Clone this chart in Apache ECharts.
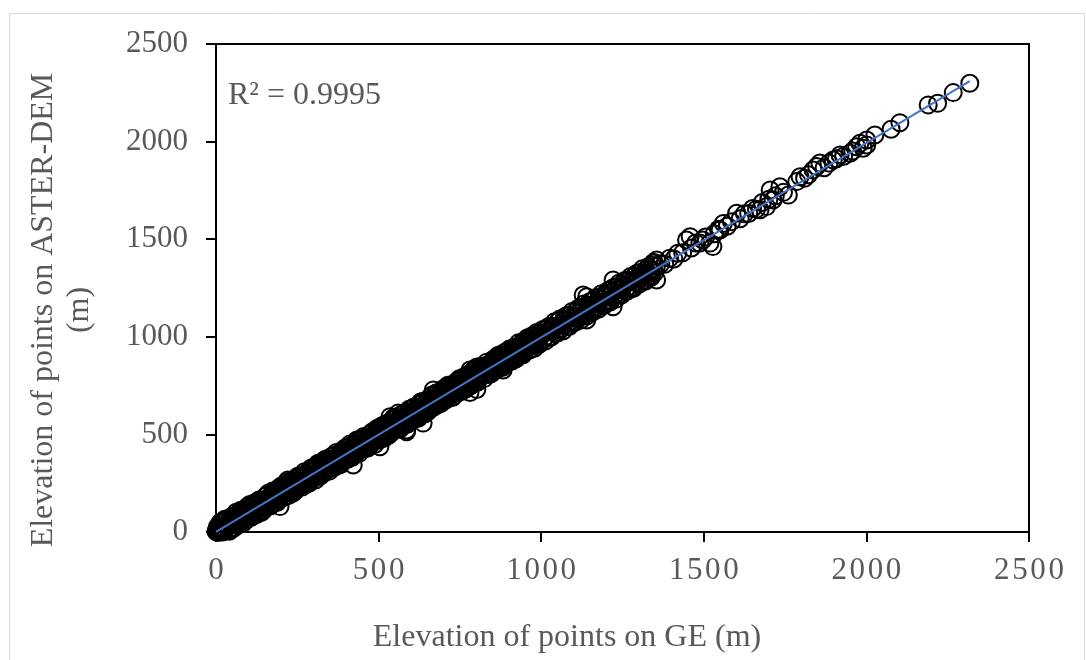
<!DOCTYPE html>
<html>
<head>
<meta charset="utf-8">
<script src="https://cdn.jsdelivr.net/npm/echarts@6/dist/echarts.min.js"></script>
<style>
html,body{margin:0;padding:0;background:#fff;}
#chart{width:1086px;height:660px;}
</style>
</head>
<body>
<div id="chart"></div>
<script>
// Axis tick values
const tickValues = [0, 500, 1000, 1500, 2000, 2500];

// Dense part of the cloud (GE elevation, ASTER-DEM elevation), metres
const geDense = [0,3,6,9,12,15,18,22,26,30,35,40,46,52,58,64,70,77,84,91,98,105,112,119,126,133,140,147,154,161,168,175,182,189,196,203,210,217,224,231,238,245,252,259,266,273,280,287,294,301,308,315,322,329,336,343,350,357,364,371,378,385,392,399,406,413,420,427,434,441,448,455,462,469,476,483,490,497,504,511,518,525,532,539,546,553,560,567,574,581,588,595,602,609,616,623,630,637,644,651,658,665,672,679,686,693,700,707,714,721,728,735,742,749,756,763,770,777,784,791,798,805,812,819,826,833,840,847,854,861,868,875,882,889,896,903,910,917,924,931,938,945,952,959,966,973,980,987,994];
const asterDense = [2,0,12,1,15,25,12,26,14,38,32,54,37,57,43,75,68,84,71,107,93,114,101,122,139,126,124,153,166,151,169,171,197,181,206,189,214,216,241,225,246,233,263,256,251,278,293,278,296,317,301,304,331,327,350,338,357,344,367,383,361,391,384,409,402,428,410,428,420,449,459,449,466,453,489,480,499,485,509,527,509,523,544,532,553,538,563,581,563,591,583,582,608,624,608,625,613,648,640,660,648,678,671,665,694,697,688,723,708,718,738,726,754,734,761,770,759,791,782,784,809,789,815,828,821,846,828,853,846,876,864,876,869,899,886,911,904,931,921,917,950,936,957,947,974,969,989,982,1001];

const geDense2 = [4,11,18,25,32,39,46,53,60,67,74,81,88,95,102,109,116,123,130,137,144,151,158,165,172,179,186,193,200,207,214,221,228,235,242,249,256,263,270,277,284,291,298,305,312,319,326,333,340,347,354,361,368,375,382,389,396,403,410,417,424,431,438,445,452,459,466,473,480,487,494,501,508,515,522,529,536,543,550,557,564,571,578,585,592,599,606,613,620,627,634,641,648,655,662,669,676,683,690,697,704,711,718,725,732,739,746,753,760,767,774,781,788,795,802,809,816,823,830,837,844,851,858,865,872,879,886,893,900,907,914,921,928,935,942,949,956,963,970,977,984,991,998];
const asterDense2 = [26,0,46,5,63,12,65,23,84,45,103,63,114,64,123,85,146,104,155,109,164,125,190,142,190,150,213,172,223,177,240,201,250,208,272,231,280,238,289,245,312,268,319,279,343,300,351,304,362,323,372,330,395,353,406,361,416,378,439,396,447,404,468,425,478,435,485,443,508,464,519,482,530,486,553,503,557,521,577,529,584,547,607,558,615,578,638,588,638,597,661,619,673,624,681,643,706,663,714,668,725,683,744,702,760,720,768,726,791,743,803,756,808,765,826,787,843,805,853,811,862,822,889,844,897,852,908,869,928,887,940,898,949,907,972,924,975,932,994,955,1011,965,1021];

const geDense3 = [1,8,15,22,29,36,43,50,57,64,71,78,85,92,99,106,113,120,127,134,141,148,155,162,169,176,183,190,197,204,211,218,225,232,239,246,253,260,267,274,281,288,295,302,309,316,323,330,337,344,351,358,365,372,379,386,393,400,407,414,421,428,435,442,449,456,463,470,477,484,491,498,505,512,519,526,533,540,547,554,561,568,575,582,589,596,603,610,617,624,631,638,645,652,659,666,673,680,687,694,701,708,715,722,729,736,743,750,757,764,771,778,785,792,799,806,813,820,827,834,841,848,855,862,869,876,883,890,897,904,911,918,925,932,939,946,953,960,967,974,981,988,995];
const asterDense3 = [7,4,24,20,40,26,47,42,64,52,72,72,95,89,107,95,118,111,139,133,144,141,166,157,171,166,192,186,203,192,219,216,237,223,243,240,263,257,274,263,286,280,296,290,318,312,334,323,340,334,363,353,371,371,389,377,395,389,415,411,425,416,442,436,460,454,472,462,478,474,501,495,510,501,525,519,545,539,556,549,563,559,583,578,600,584,606,604,627,622,638,628,646,644,671,661,677,669,693,691,710,707,726,715,732,724,751,746,762,755,777,767,795,790,800,798,825,814,831,824,852,843,858,853,876,875,893,878,899,897,919,914,937,922,944,943,962,954,968,963,985,980,1001];

const geDense4 = [6,13,20,27,34,41,48,55,62,69,76,83,90,97,104,111,118,125,132,139,146,153,160,167,174,181,188,195,202,209,216,223,230,237,244,251,258,265,272,279,286,293,300,307,314,321,328,335,342,349,356,363,370,377,384,391,398,405,412,419,426,433,440,447,454,461,468,475,482,489,496,503,510,517,524,531,538,545,552,559,566,573,580,587,594,601,608,615,622,629,636,643,650,657,664,671,678,685,692,699,706,713,720,727,734,741,748,755,762,769,776,783,790,797,804,811,818,825,832,839,846,853,860,867,874,881,888,895,902,909,916,923,930,937,944,951,958,965,972,979,986,993];
const asterDense4 = [0,49,0,65,67,4,79,20,101,37,111,45,59,131,141,78,148,89,164,100,111,184,198,133,210,151,151,228,237,178,255,187,262,199,211,285,288,230,309,247,250,328,331,268,352,287,298,371,375,312,388,332,407,342,346,421,432,372,451,383,394,471,403,478,489,427,432,505,515,450,532,473,544,480,556,496,507,584,589,526,528,606,610,551,629,569,639,581,583,666,670,606,615,689,702,641,714,654,659,734,676,752,753,689,700,772,785,719,794,734,807,749,826,764,767,846,848,786,870,807,810,885,829,904,908,843,921,865,937,875,946,888,969,906,908,984,995,933,1006,941,1022,960];

// 1000 - 1360 m
const geMid = [1003,1012,1021,1030,1039,1048,1057,1066,1075,1084,1093,1102,1111,1120,1129,1138,1147,1156,1165,1174,1183,1192,1201,1210,1219,1228,1237,1246,1255,1264,1273,1282,1291,1300,1309,1318,1327,1336,1345,1354];
const asterMid = [1010,999,1030,1024,1051,1037,1062,1058,1088,1075,1101,1094,1121,1108,1137,1131,1159,1146,1171,1168,1195,1180,1208,1203,1230,1216,1245,1240,1266,1253,1280,1290,1283,1311,1301,1324,1320,1345,1338,1362];
const geMid2 = [1007,1016,1025,1034,1043,1052,1061,1070,1079,1088,1097,1106,1115,1124,1133,1142,1151,1160,1169,1178,1187,1196,1205,1214,1223,1232,1241,1250,1259,1268,1277,1286,1295,1304,1313,1322,1331,1340,1349];
const asterMid2 = [985,1041,998,1054,1019,1080,1040,1093,1053,1110,1069,1130,1095,1151,1110,1163,1126,1186,1147,1202,1160,1216,1182,1242,1202,1257,1217,1272,1233,1289,1249,1309,1275,1330,1288,1344,1307,1367,1328];
const geMid3 = [1005,1014,1023,1032,1041,1050,1059,1068,1077,1086,1095,1104,1113,1122,1131,1140,1149,1158,1167,1176,1185,1194,1203,1212,1221,1230,1239,1248,1257,1266,1275,1284,1293,1302,1311,1320,1329,1338,1347];
const asterMid3 = [1038,979,1053,1000,1077,1019,1093,1031,1108,1053,1130,1074,1145,1086,1168,1106,1179,1127,1200,1141,1221,1162,1234,1178,1251,1193,1274,1215,1289,1236,1309,1248,1324,1270,1348,1285,1359,1305,1381];

// 1360 - 1760 m
const geUpper = [1368,1380,1395,1408,1420,1435,1447,1458,1462,1475,1488,1497,1505,1519,1528,1532,1545,1550,1560,1572,1585,1601,1612,1625,1638,1650,1662,1673,1680,1693,1700,1704,1713,1720,1734,1745,1760];
const asterUpper = [1374,1372,1403,1399,1428,1430,1496,1513,1455,1481,1480,1496,1511,1480,1462,1528,1551,1547,1581,1566,1590,1633,1605,1630,1632,1657,1654,1651,1688,1667,1705,1752,1701,1722,1769,1740,1726];

// high tail
const geTail = [1786,1796,1810,1822,1836,1847,1857,1870,1885,1898,1908,1919,1930,1950,1958,1970,1980,1990,2001,2001,2026,2076,2103,2190,2219,2267,2318];
const asterTail = [1795,1820,1812,1830,1855,1872,1890,1866,1890,1906,1912,1931,1925,1940,1952,1974,1991,1966,2008,1983,2034,2063,2097,2188,2196,2251,2299];

// points off the band
const geOut = [197,221,422,504,535,560,586,586,637,668,781,802,781,802,883,1129,1140,1140,1140,1221,1221,1304,1344,1355,1355];
const asterOut = [130,266,343,437,591,609,523,514,558,727,830,845,715,730,830,1214,1205,1086,1122,1154,1291,1327,1378,1393,1291];

// linear trend line end points
const trendGE = [0, 2318];
const trendAster = [1, 2310];
const r2Label = 'R² = 0.9995';

const xTitle = 'Elevation of points on GE (m)';
const yTitle = 'Elevation of points on ASTER-DEM\n(m)';

function zip(a, b) { return a.map((v, i) => [v, b[i]]); }
const scatterData = [].concat(
  zip(geDense4, asterDense4), zip(geDense2, asterDense2),
  zip(geDense, asterDense), zip(geDense3, asterDense3),
  zip(geMid3, asterMid3), zip(geMid2, asterMid2), zip(geMid, asterMid),
  zip(geUpper, asterUpper), zip(geTail, asterTail), zip(geOut, asterOut)
);
const trendData = zip(trendGE, trendAster);

const FONT = "'Liberation Serif', 'Times New Roman', serif";
const TXT = '#595959';

const chart = echarts.init(document.getElementById('chart'), null, {renderer: 'canvas'});
chart.setOption({
  animation: false,
  backgroundColor: '#fff',
  grid: {
    left: 216, top: 44, right: 57, bottom: 128,
    show: true, borderColor: '#000', borderWidth: 2, backgroundColor: 'transparent'
  },
  xAxis: {
    type: 'value',
    min: tickValues[0], max: tickValues[tickValues.length - 1],
    interval: tickValues[1] - tickValues[0],
    axisLine: {show: true, onZero: false, lineStyle: {color: '#000', width: 2}},
    axisTick: {show: true, inside: false, length: 10, lineStyle: {color: '#000', width: 2}},
    splitLine: {show: false},
    axisLabel: {
      color: TXT, fontFamily: FONT, fontSize: 31, margin: 23,
      formatter: v => String(v).split('').join('\u200A')
    }
  },
  yAxis: {
    type: 'value',
    min: tickValues[0], max: tickValues[tickValues.length - 1],
    interval: tickValues[1] - tickValues[0],
    axisLine: {show: true, onZero: false, lineStyle: {color: '#000', width: 2}},
    axisTick: {show: true, inside: false, length: 10, lineStyle: {color: '#000', width: 2}},
    splitLine: {show: false},
    axisLabel: {color: TXT, fontFamily: FONT, fontSize: 31, margin: 28, formatter: v => String(v)}
  },
  graphic: [
    {type: 'rect', silent: true, shape: {x: 9.5, y: 13.5, width: 1075, height: 700},
     style: {fill: 'none', stroke: '#d9d9d9', lineWidth: 1}},
    {type: 'text', x: 228, y: 96,
     style: {text: r2Label, font: '32px ' + FONT, fill: TXT, textVerticalAlign: 'middle'}},
    {type: 'text', x: 567, y: 638,
     style: {text: xTitle, font: '32px ' + FONT, fill: TXT, textAlign: 'center', textVerticalAlign: 'middle'}},
    {type: 'text', x: 62, y: 310, rotation: Math.PI / 2,
     style: {text: yTitle, font: '32px ' + FONT, fill: TXT, textAlign: 'center', textVerticalAlign: 'middle', lineHeight: 36}}
  ],
  series: [
    {
      type: 'scatter',
      data: scatterData,
      symbol: 'circle',
      symbolSize: 17,
      clip: false,
      large: false,
      itemStyle: {color: 'rgba(0,0,0,0)', borderColor: '#000', borderWidth: 2, opacity: 1},
      z: 2
    },
    {
      type: 'line',
      data: trendData,
      showSymbol: false,
      symbol: 'none',
      lineStyle: {color: '#4472C4', width: 2},
      z: 3
    }
  ]
});
</script>
</body>
</html>
